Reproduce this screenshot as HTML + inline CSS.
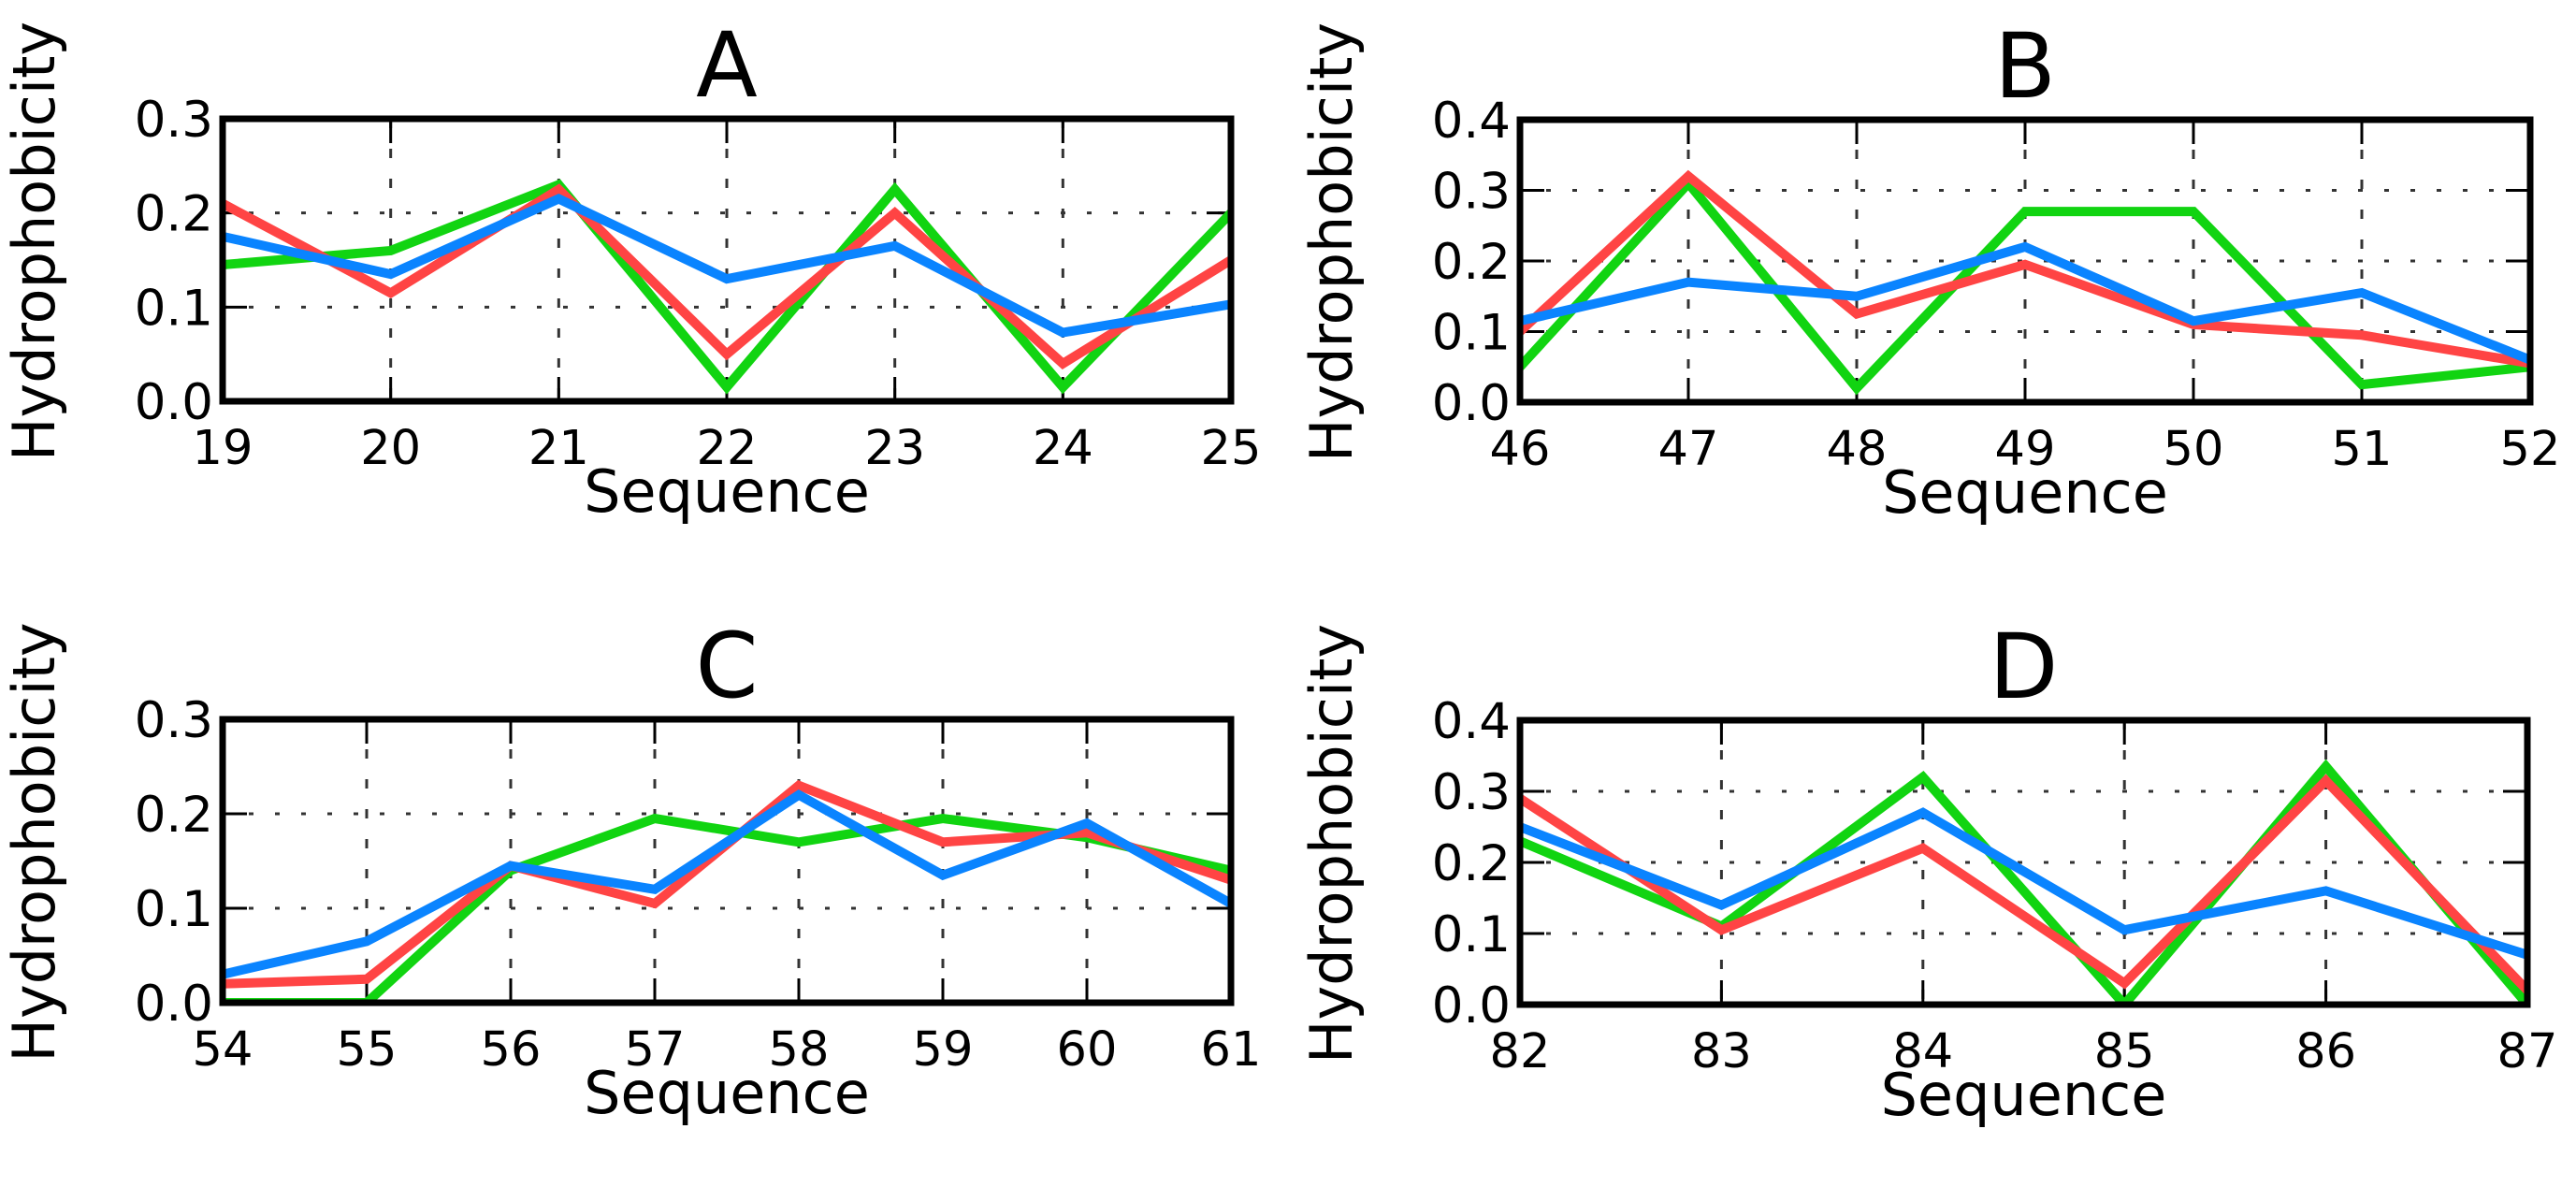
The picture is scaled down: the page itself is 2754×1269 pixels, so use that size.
<!DOCTYPE html>
<html><head><meta charset="utf-8"><style>
html,body{margin:0;padding:0;background:#fff;}
svg{display:block;font-family:"DejaVu Sans","Liberation Sans",sans-serif;}
</style></head><body>
<svg id="fig" width="2754" height="1269" viewBox="0 0 2754 1269" xmlns="http://www.w3.org/2000/svg"></svg>
<script>
// Panel A
const catsA = [19,20,21,22,23,24,25];
const greenA = [0.145,0.16,0.23,0.015,0.225,0.015,0.2];
const redA = [0.21,0.115,0.225,0.05,0.2,0.04,0.15];
const blueA = [0.175,0.135,0.215,0.13,0.165,0.073,0.103];
const yTicksA = ["0.0","0.1","0.2","0.3"];
// Panel B
const catsB = [46,47,48,49,50,51,52];
const greenB = [0.05,0.31,0.02,0.27,0.27,0.025,0.05];
const redB = [0.1,0.32,0.125,0.195,0.11,0.095,0.055];
const blueB = [0.115,0.17,0.15,0.22,0.115,0.155,0.06];
const yTicksB = ["0.0","0.1","0.2","0.3","0.4"];
// Panel C
const catsC = [54,55,56,57,58,59,60,61];
const greenC = [0.0,0.0,0.14,0.195,0.17,0.195,0.175,0.14];
const redC = [0.02,0.025,0.145,0.105,0.23,0.17,0.18,0.13];
const blueC = [0.03,0.065,0.145,0.12,0.22,0.135,0.19,0.105];
const yTicksC = ["0.0","0.1","0.2","0.3"];
// Panel D
const catsD = [82,83,84,85,86,87];
const greenD = [0.23,0.11,0.32,0.0,0.335,0.0];
const redD = [0.29,0.105,0.22,0.03,0.315,0.02];
const blueD = [0.25,0.14,0.27,0.105,0.16,0.07];
const yTicksD = ["0.0","0.1","0.2","0.3","0.4"];

const NS = "http://www.w3.org/2000/svg";
const svg = document.getElementById('fig');
function mk(tag, attrs, parent){
  const e = document.createElementNS(NS, tag);
  for (const k in attrs) e.setAttribute(k, attrs[k]);
  (parent||svg).appendChild(e);
  return e;
}
function panel(id, title, box, cats, yTicks, series){
  const g = mk('g', {});
  
  
  const {l, r, t, b} = box;
  const yMax = parseFloat(yTicks[yTicks.length-1]);
  const xs = v => l + (v - cats[0]) / (cats[cats.length-1] - cats[0]) * (r - l);
  const ys = v => b - v / yMax * (b - t);
  cats.forEach(c => {
    const x = xs(c);
    const gl = mk('line', {x1:x, x2:x, y1:t, y2:b, stroke:'#333', 'stroke-width':3, 'stroke-dasharray':'10 22'}, g);
    
    
    const tk1 = mk('line', {x1:x, x2:x, y1:t, y2:t+26, stroke:'#000', 'stroke-width':3}, g);
    
    
    const tk2 = mk('line', {x1:x, x2:x, y1:b, y2:b-26, stroke:'#000', 'stroke-width':3}, g);
    
    
    const tl = mk('text', {x:x, y:b+67, 'font-size':51, 'text-anchor':'middle', fill:'#000'}, g);
    tl.textContent = c;
    
    
  });
  yTicks.forEach(s => {
    const y = ys(parseFloat(s));
    const gl = mk('line', {x1:l, x2:r, y1:y, y2:y, stroke:'#333', 'stroke-width':3, 'stroke-dasharray':'5 23'}, g);
    
    
    const tk1 = mk('line', {x1:l, x2:l+26, y1:y, y2:y, stroke:'#000', 'stroke-width':3}, g);
    
    
    const tk2 = mk('line', {x1:r, x2:r-26, y1:y, y2:y, stroke:'#000', 'stroke-width':3}, g);
    
    
    const tl = mk('text', {x:l-10, y:y+19, 'font-size':53, 'text-anchor':'end', fill:'#000'}, g);
    tl.textContent = s;
    
    
  });
  const clip = mk('clipPath', {id:'clip'+id}, g);
  mk('rect', {x:l, y:t, width:r-l, height:b-t}, clip);
  series.forEach(([name, color, vals]) => {
    const pts = vals.map((v,i) => xs(cats[i]) + ',' + ys(v)).join(' ');
    const pl = mk('polyline', {points:pts, fill:'none', stroke:color, 'stroke-width':10, 'stroke-linejoin':'miter', 'clip-path':'url(#clip'+id+')'}, g);
    
    
  });
  const fr = mk('rect', {x:l, y:t, width:r-l, height:b-t, fill:'none', stroke:'#000', 'stroke-width':7}, g);
  
  
  const tt = mk('text', {x:(l+r)/2, y:t-24, 'font-size':96, 'text-anchor':'middle', fill:'#000'}, g);
  tt.textContent = title;
  
  
  const xl = mk('text', {x:(l+r)/2, y:b+118, 'font-size':62, 'text-anchor':'middle', fill:'#000'}, g);
  xl.textContent = 'Sequence';
  
  
  const cy = (t+b)/2 - 20;
  const lx = l - 180;
  const yl = mk('text', {x:lx, y:cy, 'font-size':62, 'text-anchor':'middle', fill:'#000', transform:'rotate(-90 '+lx+' '+cy+')'}, g);
  yl.textContent = 'Hydrophobicity';
  
  
}
const G='#11d411', R='#ff4444', B='#0a84ff';
panel('A','A',{l:238,r:1316,t:127,b:429},catsA,yTicksA,[['green',G,greenA],['red',R,redA],['blue',B,blueA]]);
panel('B','B',{l:1625,r:2705,t:128,b:430},catsB,yTicksB,[['green',G,greenB],['red',R,redB],['blue',B,blueB]]);
panel('C','C',{l:238,r:1316,t:769,b:1072},catsC,yTicksC,[['green',G,greenC],['red',R,redC],['blue',B,blueC]]);
panel('D','D',{l:1625,r:2702,t:770,b:1074},catsD,yTicksD,[['green',G,greenD],['red',R,redD],['blue',B,blueD]]);
</script>
</body></html>
